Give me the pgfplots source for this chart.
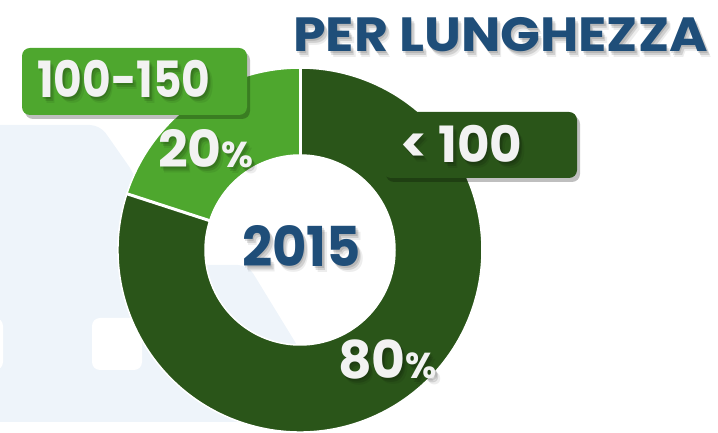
\documentclass[border=0pt]{standalone}
\usepackage{pgfplots}
\pgfplotsset{compat=1.18}
\usepackage{pgfplotstable}
\usepackage{graphicx}
\usepackage{fontspec}
\setmainfont{Poppins}
\usetikzlibrary{shadows}
\definecolor{darkg}{HTML}{2A5519}
\definecolor{lightg}{HTML}{4EA72E}
\definecolor{titleblue}{HTML}{1F4E79}
\definecolor{bgblue}{HTML}{EEF4FA}
\definecolor{offwhite}{HTML}{F2F2F2}

\pgfplotstableread{
label value
{<100} 80
{100-150} 20
}\datatable
\pgfplotstablegetelem{0}{value}\of\datatable \let\va\pgfplotsretval
\pgfplotstablegetelem{1}{value}\of\datatable \let\vb\pgfplotsretval
\pgfmathsetmacro\aB{90+3.6*\vb}
\pgfmathsetmacro\aE{\aB+3.6*\va}

\newcommand\lbl[6]{% x y color size hscale text
  \node[anchor=base west,inner sep=0pt,text=black,opacity=0.07,xshift=4.5pt,yshift=-5.5pt] at (axis cs:#1,#2) {\fontsize{#4}{#4}\selectfont\bfseries\scalebox{#5}[1]{#6}};
  \node[anchor=base west,inner sep=0pt,text=black,opacity=0.12,xshift=3pt,yshift=-3.5pt] at (axis cs:#1,#2) {\fontsize{#4}{#4}\selectfont\bfseries\scalebox{#5}[1]{#6}};
  \node[anchor=base west,inner sep=0pt,text=black,opacity=0.12,xshift=1.5pt,yshift=-2pt] at (axis cs:#1,#2) {\fontsize{#4}{#4}\selectfont\bfseries\scalebox{#5}[1]{#6}};
  \node[anchor=base west,inner sep=0pt,text=#3] at (axis cs:#1,#2) {\fontsize{#4}{#4}\selectfont\bfseries\scalebox{#5}[1]{#6}};
}

\begin{document}
\begin{tikzpicture}
\begin{axis}[name=ax, at={(0,0)}, anchor=south west, scale only axis,
  width=718pt, height=433pt, xmin=0, xmax=718, ymin=0, ymax=433,
  hide axis, clip=false]
% background silhouette
\fill[bgblue, rounded corners=10pt] (axis cs:-20,308) -- (axis cs:100,308) -- (axis cs:135,258)
   -- (axis cs:150,168) -- (axis cs:248,168) -- (axis cs:300,83) -- (axis cs:300,11) -- (axis cs:-20,11) -- cycle;
\fill[white, rounded corners=8pt] (axis cs:92,63) rectangle (axis cs:142,115);
\fill[white, rounded corners=8pt] (axis cs:-30,63) rectangle (axis cs:3,115);
% donut slices
\filldraw[fill=lightg, draw=white, line width=1.5pt] (axis cs:300,183) ++(90:182pt) arc[start angle=90,end angle=\aB,radius=182pt]
   -- ++(\aB:-87pt) arc[start angle=\aB,end angle=90,radius=95pt] -- cycle;
\filldraw[fill=darkg, draw=white, line width=1.5pt] (axis cs:300,183) ++(\aB:182pt) arc[start angle=\aB,end angle=\aE,radius=182pt]
   -- ++(\aE:-87pt) arc[start angle=\aE,end angle=\aB,radius=95pt] -- cycle;
\draw[white, line width=3pt] (axis cs:300,183) ++(90:94pt) -- ++(90:89pt);
\draw[white, line width=3pt] (axis cs:300,183) ++(\aB:94pt) -- ++(\aB:89pt);
% label boxes
\fill[lightg, rounded corners=8pt, drop shadow={shadow xshift=3pt, shadow yshift=-4pt, opacity=0.25, fill=black}]
   (axis cs:22,318) rectangle (axis cs:247,385);
\fill[darkg, rounded corners=8pt, drop shadow={shadow xshift=3pt, shadow yshift=-4pt, opacity=0.25, fill=black}]
   (axis cs:383,255) rectangle (axis cs:577,321);
% texts
\lbl{293}{381}{titleblue}{48}{1.09}{PER LUNGHEZZA}
\lbl{37}{335}{offwhite}{50}{0.88}{100-150}
\lbl{400}{270}{offwhite}{50}{1}{< 100}
\lbl{158}{265}{offwhite}{51}{1.02}{20{\fontsize{36}{36}\selectfont\%}}
\lbl{338}{54}{offwhite}{52}{1}{80{\fontsize{36}{36}\selectfont\%}}
\lbl{242}{166}{titleblue}{55}{0.96}{2015}
\end{axis}
\pgfresetboundingbox
\useasboundingbox (ax.south west) rectangle (ax.north east);
\end{tikzpicture}
\end{document}
